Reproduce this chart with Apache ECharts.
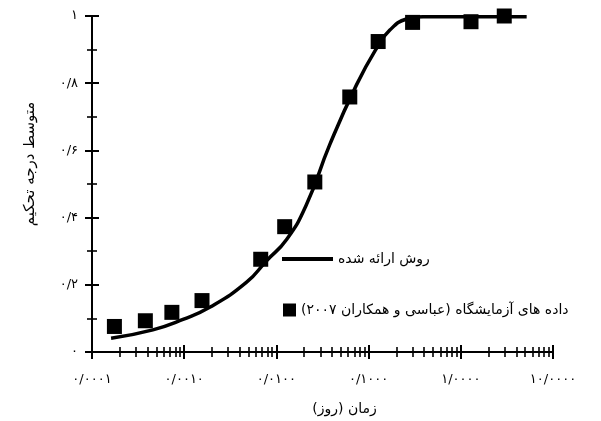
<!DOCTYPE html>
<html>
<head>
<meta charset="utf-8">
<script src="https://cdn.jsdelivr.net/npm/echarts@6/dist/echarts.min.js"></script>
<style>html,body{margin:0;padding:0;background:#fff}#c{width:601px;height:421px}</style>
</head>
<body>
<div id="c"></div>
<script>
// ---- data ----
var curveX = [0.000161, 0.000457, 0.00097, 0.00189, 0.00472, 0.00778, 0.0129, 0.0212, 0.0379, 0.0739, 0.122, 0.170, 0.258, 0.391, 5.18];
var curveY = [0.041, 0.066, 0.097, 0.133, 0.207, 0.271, 0.335, 0.439, 0.617, 0.795, 0.904, 0.958, 0.991, 0.998, 0.998];
var labX = [0.000175, 0.000379, 0.000735, 0.00156, 0.00676, 0.0123, 0.0261, 0.0625, 0.127, 0.300, 1.29, 2.96];
var labY = [0.076, 0.093, 0.118, 0.153, 0.276, 0.373, 0.506, 0.759, 0.924, 0.981, 0.983, 1.0];
var xTickValues = [0.0001, 0.001, 0.01, 0.1, 1, 10];
var xTickLabels = ['۰/۰۰۰۱', '۰/۰۰۱۰', '۰/۰۱۰۰', '۰/۱۰۰۰', '۱/۰۰۰۰', '۱۰/۰۰۰۰'];
var yTickValues = [0, 0.2, 0.4, 0.6, 0.8, 1];
var yTickLabels = ['۰', '۰/۲', '۰/۴', '۰/۶', '۰/۸', '۱'];
var curveName = 'روش ارائه شده';
var labName = 'داده های آزمایشگاه (عباسی و همکاران ۲۰۰۷)';
var xTitle = 'زمان (روز)';
var yTitle = 'متوسط درجه تحکیم';

// ---- helpers ----
function rtl(s) { return '\u202B' + s + '\u202C'; }
function lookup(vals, labels, v) {
  for (var i = 0; i < vals.length; i++) {
    if (Math.abs(vals[i] - v) <= Math.abs(vals[i]) * 1e-6 + 1e-9) return labels[i];
  }
  return '';
}
var minorX = [];
for (var d = 0; d < xTickValues.length - 1; d++) {
  for (var k = 2; k <= 9; k++) minorX.push(+(xTickValues[d] * k).toPrecision(6));
}
var FONT = 'DejaVu Sans';
var lineW = 2;

function xAx(extra) {
  var base = {
    type: 'log', logBase: 10, min: 0.0001, max: 10, position: 'bottom', gridIndex: 0,
    axisLine: { show: false, onZero: false, lineStyle: { color: '#000', width: lineW } },
    splitLine: { show: false }, minorTick: { show: false },
    axisLabel: { show: false },
    axisTick: { show: true, inside: false, length: 7, lineStyle: { color: '#000', width: lineW } }
  };
  return Object.assign(base, extra);
}
function yAx(extra) {
  var base = {
    type: 'value', min: 0, max: 1, interval: 0.2, position: 'left', gridIndex: 0,
    axisLine: { show: false, onZero: false, lineStyle: { color: '#000', width: lineW } },
    splitLine: { show: false },
    axisLabel: { show: false },
    axisTick: { show: true, inside: false, length: 7, lineStyle: { color: '#000', width: lineW } }
  };
  return Object.assign(base, extra);
}

var chart = echarts.init(document.getElementById('c'), null, { renderer: 'canvas' });
chart.setOption({
  animation: false,
  backgroundColor: '#fff',
  textStyle: { fontFamily: FONT },
  grid: { left: 92, right: 48, top: 16, bottom: 68, containLabel: false },
  xAxis: [
    xAx({
      axisLine: { show: true, onZero: false, lineStyle: { color: '#000', width: lineW } },
      axisLabel: {
        show: true, margin: 21, color: '#000', fontSize: 13, fontFamily: FONT,
        formatter: function (v) { return lookup(xTickValues, xTickLabels, v); }
      },
      name: rtl(xTitle), nameLocation: 'middle', nameGap: 50,
      nameTextStyle: { color: '#000', fontSize: 14, fontFamily: FONT, padding: [0, 0, 0, 44] }
    }),
    xAx({ axisTick: { show: true, inside: true, length: 7, lineStyle: { color: '#000', width: lineW } } }),
    xAx({ axisTick: { show: true, inside: false, length: 5, customValues: minorX, lineStyle: { color: '#000', width: 1.6 } } }),
    xAx({ axisTick: { show: true, inside: true, length: 5, customValues: minorX, lineStyle: { color: '#000', width: 1.6 } } })
  ],
  yAxis: [
    yAx({
      axisLine: { show: true, onZero: false, lineStyle: { color: '#000', width: lineW } },
      axisLabel: {
        show: true, margin: 14, color: '#000', fontSize: 13, fontFamily: FONT,
        formatter: function (v) { return lookup(yTickValues, yTickLabels, v); }
      },
      name: rtl(yTitle), nameLocation: 'middle', nameGap: 54, nameRotate: 90,
      nameTextStyle: { color: '#000', fontSize: 15, fontFamily: FONT, padding: [0, 0, 0, 40] }
    }),
    yAx({ axisTick: { show: true, inside: true, length: 7, lineStyle: { color: '#000', width: lineW } } }),
    yAx({ interval: 0.1, axisTick: { show: true, inside: false, length: 5, lineStyle: { color: '#000', width: 1.6 } } }),
    yAx({ interval: 0.1, axisTick: { show: true, inside: true, length: 5, lineStyle: { color: '#000', width: 1.6 } } })
  ],
  legend: [
    {
      data: [curveName], left: 282, top: 252, padding: 0, itemWidth: 51, itemHeight: 4, icon: 'rect',
      formatter: function (n) { return rtl(n); },
      textStyle: { color: '#000', fontSize: 14, fontFamily: FONT }, selectedMode: false
    },
    {
      data: [labName], left: 283, top: 303, padding: 0, itemWidth: 13, itemHeight: 13, icon: 'rect',
      itemStyle: { color: '#000', opacity: 1 },
      formatter: function (n) { return rtl(n); },
      textStyle: { color: '#000', fontSize: 14, fontFamily: FONT }, selectedMode: false
    }
  ],
  series: [
    {
      name: curveName, type: 'line', xAxisIndex: 0, yAxisIndex: 0,
      data: curveX.map(function (x, i) { return [x, curveY[i]]; }),
      showSymbol: false, symbol: 'none', smooth: 0.5,
      lineStyle: { color: '#000', width: 3.5 }, itemStyle: { color: '#000' }, z: 3
    },
    {
      name: labName, type: 'scatter', xAxisIndex: 0, yAxisIndex: 0,
      data: labX.map(function (x, i) { return [x, labY[i]]; }),
      symbol: 'rect', symbolSize: 15, itemStyle: { color: '#000', opacity: 1 }, z: 4
    }
  ]
});
</script>
</body>
</html>
